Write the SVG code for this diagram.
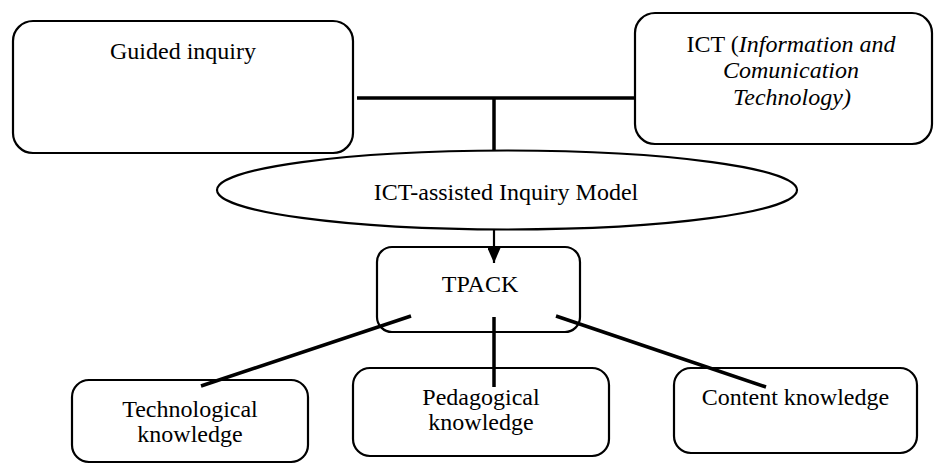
<svg xmlns="http://www.w3.org/2000/svg" width="935" height="464" viewBox="0 0 935 464">
<style>
.box{fill:#fff;stroke:#000;stroke-width:2.2}
.t{font-family:"Liberation Serif","Times New Roman",serif;font-size:24px;fill:#000;text-anchor:middle}
.i{font-style:italic}
.thick{stroke:#000;stroke-width:3.5;fill:none}
.thin{stroke:#000;stroke-width:2.2;fill:none}
</style>
<defs>
<marker id="arr" markerWidth="15" markerHeight="13" refX="15" refY="6.5" orient="auto" markerUnits="userSpaceOnUse" viewBox="0 0 15 13">
<path d="M0,0 L15,6.5 L0,13 Z" fill="#000"/>
</marker>
</defs>
<g id="guided">
<rect class="box" x="13" y="21" width="340" height="132" rx="20"/>
<text class="t" x="183" y="59">Guided inquiry</text>
</g>
<g id="ict">
<rect class="box" x="635" y="13" width="297" height="131" rx="20"/>
<text class="t" x="791" y="52">ICT (<tspan class="i">Information and</tspan></text>
<text class="t i" x="791" y="78">Comunication</text>
<text class="t i" x="792" y="105">Technology)</text>
</g>
<g id="model">
<ellipse class="box" cx="507" cy="190" rx="290" ry="39.5"/>
<text class="t" x="506" y="200">ICT-assisted Inquiry Model</text>
</g>
<g id="tpack">
<rect class="box" x="377" y="247" width="203" height="85" rx="15"/>
<text class="t" x="480" y="292">TPACK</text>
</g>
<g id="tech">
<rect class="box" x="72" y="380" width="236" height="82" rx="17"/>
<text class="t" x="190" y="417">Technological</text>
<text class="t" x="190" y="442">knowledge</text>
</g>
<g id="ped">
<rect class="box" x="353" y="368" width="256" height="88" rx="17"/>
<text class="t" x="481" y="405">Pedagogical</text>
<text class="t" x="481" y="430">knowledge</text>
</g>
<g id="content">
<rect class="box" x="674" y="368" width="243" height="85" rx="17"/>
<text class="t" x="795.5" y="405">Content knowledge</text>
</g>
<g id="connectors">
<line class="thick" x1="357" y1="98" x2="635" y2="98"/>
<line class="thick" x1="494" y1="98" x2="494" y2="151"/>
<line class="thin" x1="494" y1="229" x2="494" y2="263" marker-end="url(#arr)"/>
<line class="thick" x1="411" y1="316" x2="201" y2="386"/>
<line class="thick" x1="494" y1="317" x2="494" y2="387"/>
<line class="thick" x1="556" y1="316" x2="766" y2="387"/>
</g>
</svg>
